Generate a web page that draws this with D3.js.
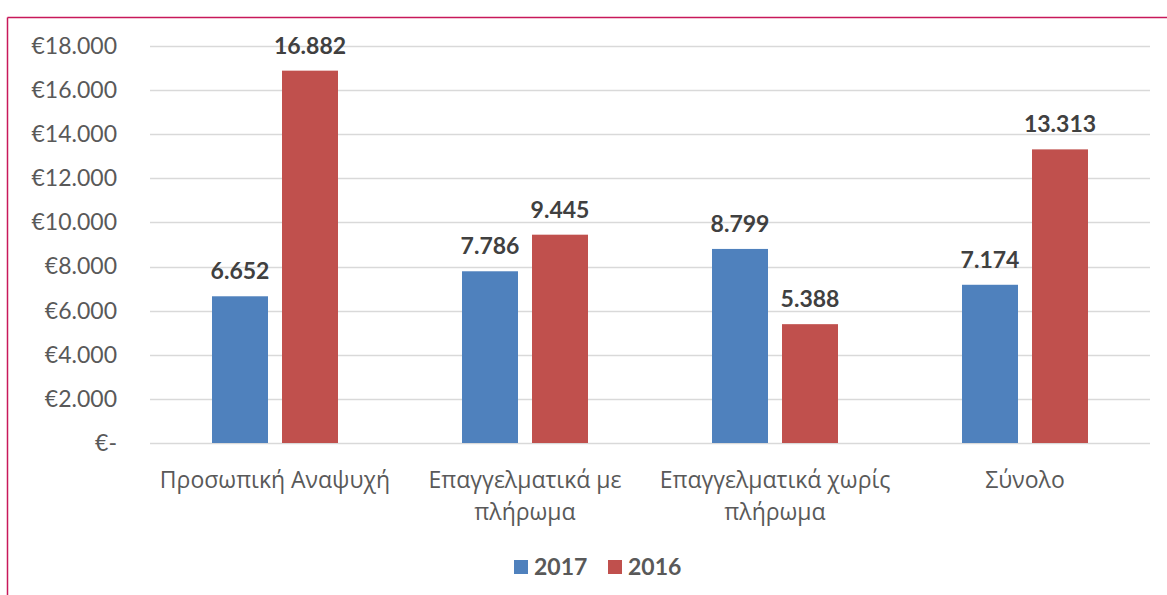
<!DOCTYPE html>
<html>
<head>
<meta charset="utf-8">
<script src="https://cdn.jsdelivr.net/npm/d3@7"></script>
<style>
  body { margin: 0; background: #fff; }
  text { font-family: Lato, "Open Sans", sans-serif; }
</style>
</head>
<body>
<svg id="chart"></svg>
<script>
// Chart data
const categories = [
  ["Προσωπική Αναψυχή"],
  ["Επαγγελματικά με", "πλήρωμα"],
  ["Επαγγελματικά χωρίς", "πλήρωμα"],
  ["Σύνολο"]
];
const seriesNames = ["2017", "2016"];
const values2017 = [6652, 7786, 8799, 7174];
const values2016 = [16882, 9445, 5388, 13313];
const yTicks = [0, 2000, 4000, 6000, 8000, 10000, 12000, 14000, 16000, 18000];
const colors = ["#4F81BD", "#C0504D"];

const width = 1167, height = 595;
const margin = {top: 46, right: 17, bottom: 152, left: 150};
const innerW = width - margin.left - margin.right;
const innerH = height - margin.top - margin.bottom;

const svg = d3.select("#chart")
    .attr("width", width)
    .attr("height", height);

// Frame lines (top and left)
svg.append("line")
    .attr("x1", 7.5).attr("x2", width)
    .attr("y1", 17.5).attr("y2", 17.5)
    .attr("stroke", "#C8185A").attr("stroke-width", 1.5);
svg.append("line")
    .attr("x1", 7.5).attr("x2", 7.5)
    .attr("y1", 17.5).attr("y2", height)
    .attr("stroke", "#C8185A").attr("stroke-width", 1.5);

const chart = svg.append("g")
    .attr("transform", `translate(${margin.left},${margin.top})`);

const x0 = d3.scaleBand()
    .domain(d3.range(categories.length))
    .range([0, innerW]);

const x1 = d3.scaleBand()
    .domain(seriesNames)
    .range([62, x0.bandwidth() - 62])
    .paddingInner(0.2);

const y = d3.scaleLinear()
    .domain([0, 18000])
    .range([innerH, 0]);

// Gridlines
chart.append("g")
    .selectAll("line")
    .data(yTicks)
  .join("line")
    .attr("x1", 0).attr("x2", innerW)
    .attr("y1", d => Math.round(y(d)) + 0.5)
    .attr("y2", d => Math.round(y(d)) + 0.5)
    .attr("stroke", "#D9D9D9")
    .attr("stroke-width", 1.5);

// Y axis labels
const fmt = d => d === 0 ? "€-" : "€" + d3.format(",")(d).replace(/,/g, ".");
const yAxis = d3.axisLeft(y)
    .tickValues(yTicks)
    .tickFormat(fmt)
    .tickSize(0)
    .tickPadding(33);
const yAxisG = chart.append("g").call(yAxis);
yAxisG.select(".domain").remove();
yAxisG.selectAll("text")
    .attr("fill", "#595959")
    .style("font-size", "23px");

// Bars
const data = categories.map((c, i) => ({
  i,
  vals: [
    {key: seriesNames[0], value: values2017[i]},
    {key: seriesNames[1], value: values2016[i]}
  ]
}));

const groups = chart.selectAll(".group")
    .data(data)
  .join("g")
    .attr("class", "group")
    .attr("transform", d => `translate(${x0(d.i)},0)`);

groups.selectAll("rect")
    .data(d => d.vals)
  .join("rect")
    .attr("x", d => x1(d.key))
    .attr("width", x1.bandwidth())
    .attr("y", d => y(d.value))
    .attr("height", d => innerH - y(d.value))
    .attr("fill", (d, j) => colors[j]);

groups.selectAll(".val")
    .data(d => d.vals)
  .join("text")
    .attr("class", "val")
    .attr("x", d => x1(d.key) + x1.bandwidth() / 2)
    .attr("y", d => y(d.value) - 17)
    .attr("text-anchor", "middle")
    .attr("fill", "#404040")
    .style("font-size", "23px")
    .style("font-weight", "bold")
    .text(d => d3.format(",")(d.value).replace(/,/g, "."));

// Category labels
const catG = chart.append("g")
    .attr("transform", `translate(0,${innerH})`);
catG.selectAll("text")
    .data(categories)
  .join("text")
    .attr("x", (d, i) => x0(i) + x0.bandwidth() / 2)
    .attr("y", 45)
    .attr("text-anchor", "middle")
    .attr("fill", "#595959")
    .style("font-family", "'Open Sans', sans-serif")
    .style("font-size", "23px")
    .selectAll("tspan")
    .data(d => d)
  .join("tspan")
    .attr("x", function() { return d3.select(this.parentNode).attr("x"); })
    .attr("dy", (d, k) => k === 0 ? 0 : 32)
    .text(d => d);

// Legend
const legend = svg.append("g")
    .attr("transform", "translate(514,560)");
const legendItems = legend.selectAll("g")
    .data(seriesNames)
  .join("g")
    .attr("transform", (d, i) => `translate(${i * 94},0)`);
legendItems.append("rect")
    .attr("width", 14).attr("height", 14)
    .attr("fill", (d, i) => colors[i]);
legendItems.append("text")
    .attr("x", 20).attr("y", 15)
    .attr("fill", "#595959")
    .style("font-size", "23px")
    .style("font-weight", "bold")
    .text(d => d);
</script>
</body>
</html>
